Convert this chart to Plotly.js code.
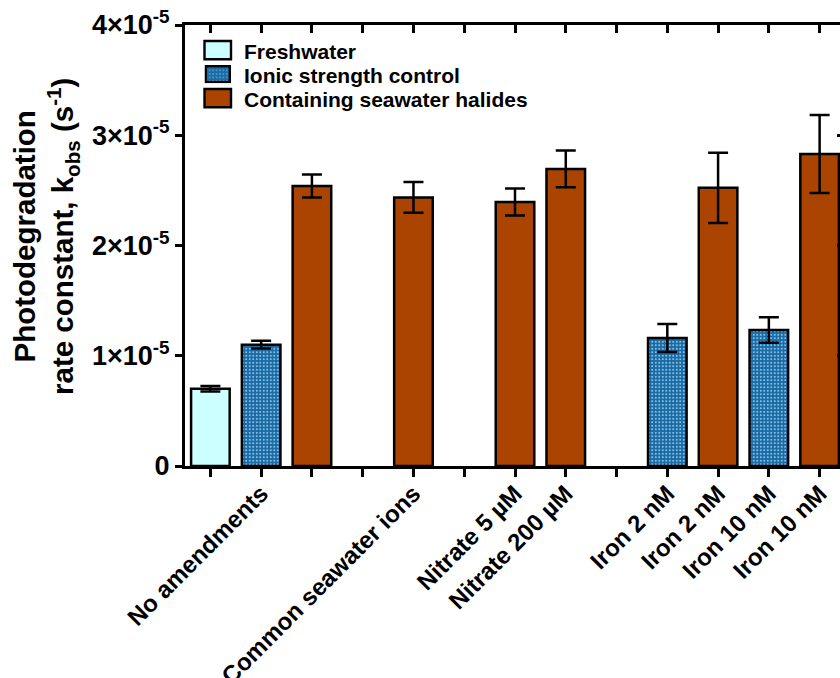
<!DOCTYPE html>
<html>
<head>
<meta charset="utf-8">
<script src="https://cdn.plot.ly/plotly-3.0.1.min.js"></script>
<style>
html, body { margin: 0; padding: 0; overflow: hidden; background: #fff; }
#chart { width: 860px; height: 678px; }
</style>
</head>
<body>
<div id="chart"></div>
<script>
// ---- Data ----
const positions = [0, 1, 2, 3, 4, 5, 6, 7, 8, 9, 10, 11, 12];
const labelPositions = [1, 4, 6, 7, 9, 10, 11, 12];
const tickLabels = ['No amendments', 'Common seawater ions', 'Nitrate 5 µM', 'Nitrate 200 µM', 'Iron 2 nM', 'Iron 2 nM', 'Iron 10 nM', 'Iron 10 nM'];

const freshwater    = [7.0e-6, null, null, null, null, null, null, null, null, null, null, null, null];
const freshwaterErr = [0.25e-6, null, null, null, null, null, null, null, null, null, null, null, null];

const ionic    = [null, 1.10e-5, null, null, null, null, null, null, null, 1.16e-5, null, 1.234e-5, null];
const ionicErr = [null, 0.035e-5, null, null, null, null, null, null, null, 0.127e-5, null, 0.115e-5, null];

const seawater    = [null, null, 2.54e-5, null, 2.436e-5, null, 2.395e-5, 2.695e-5, null, null, 2.523e-5, null, 2.83e-5];
const seawaterErr = [null, null, 0.105e-5, null, 0.14e-5, null, 0.123e-5, 0.167e-5, null, null, 0.318e-5, null, 0.353e-5];

const yTickVals = [0, 1e-5, 2e-5, 3e-5, 4e-5];
const yTickText = ['0', '1×10<sup>-5</sup>', '2×10<sup>-5</sup>', '3×10<sup>-5</sup>', '4×10<sup>-5</sup>'];

const seriesNames = ['Freshwater', 'Ionic strength control', 'Containing seawater halides'];

// ---- Styles ----
const FONT = 'Arial, "Liberation Sans", Helvetica, sans-serif';
const cFresh = '#ccffff';
const cIonic = '#1a6ca6';
const cDot = '#a9d3ee';
const cSea = '#aa4400';
const barW = 0.76;
const errStyle = (arr) => ({ type: 'data', array: arr, visible: true, color: '#000', thickness: 2.5, width: 10 });

const traces = [
  { type: 'bar', name: seriesNames[0], x: positions, y: freshwater, width: barW,
    marker: { color: cFresh, line: { color: '#000', width: 2.5 } },
    error_y: errStyle(freshwaterErr), showlegend: false, hoverinfo: 'skip' },
  { type: 'bar', name: seriesNames[1], x: positions, y: ionic, width: barW,
    marker: { color: cIonic, line: { color: '#000', width: 2.5 },
      pattern: { shape: '.', fgcolor: cDot, bgcolor: cIonic, size: 3.5, solidity: 0.22 } },
    error_y: errStyle(ionicErr), showlegend: false, hoverinfo: 'skip' },
  { type: 'bar', name: seriesNames[2], x: positions, y: seawater, width: barW,
    marker: { color: cSea, line: { color: '#000', width: 2.5 } },
    error_y: errStyle(seawaterErr), showlegend: false, hoverinfo: 'skip' },
  { type: 'scatter', x: [], y: [], xaxis: 'x2', yaxis: 'y2', showlegend: false, hoverinfo: 'skip' },
  { type: 'scatter', x: [], y: [], xaxis: 'x3', yaxis: 'y', showlegend: false, hoverinfo: 'skip' }
];

// Legend (drawn manually for large swatches)
const L = 185, PW = 660, T = 25, PH = 441;
const px2x = (px) => (px - L) / PW;
const px2y = (py) => (T + PH - py) / PH;
const swatchX0 = 204.5, swatchX1 = 231;
const rowTops = [41, 65, 89];
const swatchH = 18.3;

const ionicSvg = "<svg xmlns='http://www.w3.org/2000/svg' width='27' height='18'><defs><pattern id='p' width='3.5' height='3.5' patternUnits='userSpaceOnUse'><rect width='3.5' height='3.5' fill='" + cIonic + "'/><circle cx='1.75' cy='1.75' r='0.65' fill='" + cDot + "'/></pattern></defs><rect x='1.2' y='1.2' width='24.6' height='15.6' fill='url(#p)' stroke='black' stroke-width='2.4'/></svg>";

const shapes = [
  { type: 'rect', xref: 'paper', yref: 'paper', x0: px2x(swatchX0), x1: px2x(swatchX1),
    y0: px2y(rowTops[0] + swatchH), y1: px2y(rowTops[0]), fillcolor: cFresh, line: { color: '#000', width: 2.4 } },
  { type: 'rect', xref: 'paper', yref: 'paper', x0: px2x(swatchX0), x1: px2x(swatchX1),
    y0: px2y(rowTops[2] + swatchH), y1: px2y(rowTops[2]), fillcolor: cSea, line: { color: '#000', width: 2.4 } }
];

const images = [
  { source: 'data:image/svg+xml;charset=utf-8,' + encodeURIComponent(ionicSvg),
    xref: 'paper', yref: 'paper', x: px2x(swatchX0), y: px2y(rowTops[1]),
    sizex: (swatchX1 - swatchX0) / PW, sizey: swatchH / PH, xanchor: 'left', yanchor: 'top',
    sizing: 'stretch', layer: 'above' }
];

const annotations = seriesNames.map((n, i) => ({
  text: n, xref: 'paper', yref: 'paper', x: px2x(242), y: px2y(rowTops[i] + swatchH / 2 + 1),
  xanchor: 'left', yanchor: 'middle', showarrow: false,
  font: { family: FONT, size: 21, color: '#000', weight: 'bold' }
}));
annotations.push({
  text: 'Photodegradation<br>rate constant, k<sub>obs</sub> (s<sup>-1</sup>)',
  xref: 'paper', yref: 'paper', x: 0, xshift: 46 - L, y: px2y(237), textangle: -90,
  xanchor: 'center', yanchor: 'middle', showarrow: false,
  font: { family: FONT, size: 29.5, color: '#000', weight: 'bold' }
});

const axisCommon = { showgrid: false, zeroline: false, showline: true, linecolor: '#000', linewidth: 3, tickcolor: '#000', tickwidth: 3, fixedrange: true };

const layout = {
  width: 860, height: 678,
  margin: { l: L, r: 860 - L - PW, t: T, b: 678 - T - PH, pad: 0 },
  paper_bgcolor: '#fff', plot_bgcolor: '#fff',
  barmode: 'overlay', showlegend: false,
  xaxis: Object.assign({}, axisCommon, {
    range: [-0.5, 12.5], tickmode: 'array', tickvals: positions,
    ticks: 'outside', ticklen: 8, showticklabels: false
  }),
  xaxis3: {
    overlaying: 'x', side: 'bottom', range: [-0.5, 12.5], tickmode: 'array',
    tickvals: labelPositions, ticktext: tickLabels, tickangle: -45,
    ticks: 'outside', ticklen: 3, tickwidth: 1, tickcolor: 'rgba(0,0,0,0)',
    showline: false, showgrid: false, zeroline: false, fixedrange: true,
    tickfont: { family: FONT, size: 24, color: '#000', weight: 'bold' }
  },
  yaxis: Object.assign({}, axisCommon, {
    range: [0, 4e-5], tickmode: 'array', tickvals: yTickVals, ticktext: yTickText,
    ticks: 'outside', ticklen: 7,
    tickfont: { family: FONT, size: 27, color: '#000', weight: 'bold' }
  }),
  xaxis2: Object.assign({}, axisCommon, {
    overlaying: 'x', side: 'top', range: [-0.5, 12.5], tickmode: 'array', tickvals: positions,
    ticks: 'inside', ticklen: 8, showticklabels: false
  }),
  yaxis2: Object.assign({}, axisCommon, {
    overlaying: 'y', side: 'right', range: [0, 4e-5], tickmode: 'array', tickvals: yTickVals,
    ticks: 'inside', ticklen: 8, showticklabels: false
  }),
  shapes: shapes, images: images, annotations: annotations
};

Plotly.newPlot('chart', traces, layout, { staticPlot: true, displayModeBar: false });
</script>
</body>
</html>
